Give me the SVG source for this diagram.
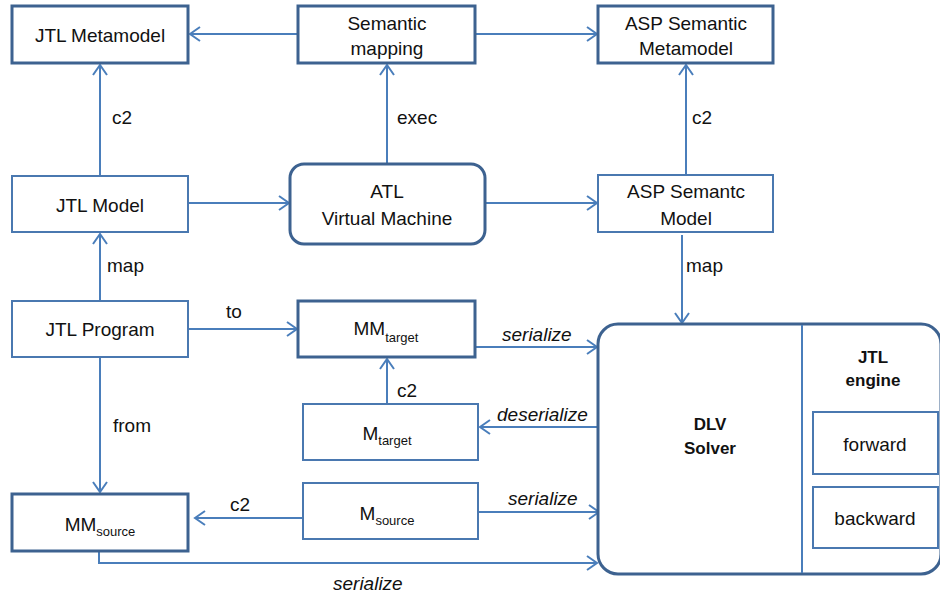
<svg xmlns="http://www.w3.org/2000/svg" width="940" height="597" viewBox="0 0 940 597">
<defs>
<style>
.thick{fill:#fff;stroke:#3d6290;stroke-width:3}
.thin{fill:#fff;stroke:#4a78b0;stroke-width:2}
.t{font-family:"Liberation Sans",Arial,sans-serif;font-size:19px;fill:#111;text-anchor:middle}
.l{font-family:"Liberation Sans",Arial,sans-serif;font-size:19px;fill:#111}
.i{font-style:italic}
.b{font-weight:bold;font-size:17px}
.sub{font-size:13px}
.c{fill:none;stroke:#4a7ebb;stroke-width:2}
</style>
<marker id="a" markerUnits="userSpaceOnUse" markerWidth="14" markerHeight="16" refX="11" refY="8" orient="auto">
<path d="M1,1 L11,8 L1,15" fill="none" stroke="#4a7ebb" stroke-width="2"/>
</marker>
</defs>
<g id="connectors">
<line class="c" x1="298" y1="34" x2="190" y2="34" marker-end="url(#a)"/>
<line class="c" x1="475" y1="34" x2="597" y2="34" marker-end="url(#a)"/>
<line class="c" x1="100" y1="176" x2="100" y2="65" marker-end="url(#a)"/>
<line class="c" x1="387" y1="164" x2="387" y2="65" marker-end="url(#a)"/>
<line class="c" x1="686" y1="175" x2="686" y2="65" marker-end="url(#a)"/>
<line class="c" x1="188" y1="203" x2="289" y2="203" marker-end="url(#a)"/>
<line class="c" x1="485" y1="203" x2="597" y2="203" marker-end="url(#a)"/>
<line class="c" x1="100" y1="301" x2="100" y2="234" marker-end="url(#a)"/>
<line class="c" x1="682" y1="235" x2="682" y2="323" marker-end="url(#a)"/>
<line class="c" x1="188" y1="329" x2="297" y2="329" marker-end="url(#a)"/>
<line class="c" x1="475" y1="347" x2="597" y2="347" marker-end="url(#a)"/>
<line class="c" x1="602" y1="427" x2="480" y2="427" marker-end="url(#a)"/>
<line class="c" x1="387" y1="404" x2="387" y2="359" marker-end="url(#a)"/>
<line class="c" x1="478" y1="512" x2="599" y2="512" marker-end="url(#a)"/>
<line class="c" x1="303" y1="518" x2="195" y2="518" marker-end="url(#a)"/>
<line class="c" x1="100" y1="357" x2="100" y2="492" marker-end="url(#a)"/>
<polyline class="c" points="99,551 99,563 597,563" marker-end="url(#a)"/>
<text class="l" x="112" y="124">c2</text>
<text class="l" x="397" y="124">exec</text>
<text class="l" x="692" y="124">c2</text>
<text class="l" x="107" y="272">map</text>
<text class="l" x="686" y="272">map</text>
<text class="l" x="226" y="318">to</text>
<text class="l i" x="502" y="341">serialize</text>
<text class="l i" x="497" y="421">deserialize</text>
<text class="l i" x="508" y="505">serialize</text>
<text class="l" x="397" y="397">c2</text>
<text class="l" x="113" y="432">from</text>
<text class="l" x="230" y="511">c2</text>
<text class="l i" x="333" y="590">serialize</text>
</g>
<g id="jtl-metamodel">
<rect class="thick" x="12" y="6" width="176" height="57"/>
<text class="t" x="100" y="42">JTL Metamodel</text>
</g>
<g id="semantic-mapping">
<rect class="thick" x="298" y="6" width="177" height="57"/>
<text class="t" x="387" y="30">Semantic</text>
<text class="t" x="387" y="55">mapping</text>
</g>
<g id="asp-semantic-metamodel">
<rect class="thick" x="598" y="6" width="175" height="57"/>
<text class="t" x="686" y="30">ASP Semantic</text>
<text class="t" x="686" y="55">Metamodel</text>
</g>
<g id="jtl-model">
<rect class="thin" x="12" y="176" width="176" height="56"/>
<text class="t" x="100" y="212">JTL Model</text>
</g>
<g id="atl-vm">
<rect class="thick" x="290" y="164" width="195" height="80" rx="14"/>
<text class="t" x="387" y="198">ATL</text>
<text class="t" x="387" y="225">Virtual Machine</text>
</g>
<g id="asp-semantic-model">
<rect class="thin" x="598" y="175" width="175" height="57"/>
<text class="t" x="686" y="198">ASP Semantc</text>
<text class="t" x="686" y="225">Model</text>
</g>
<g id="jtl-program">
<rect class="thin" x="12" y="301" width="176" height="56"/>
<text class="t" x="100" y="336">JTL Program</text>
</g>
<g id="mm-target">
<rect class="thick" x="298" y="301" width="177" height="56"/>
<text class="t" x="386" y="335">MM<tspan class="sub" dy="7">target</tspan></text>
</g>
<g id="m-target">
<rect class="thin" x="303" y="404" width="175" height="56"/>
<text class="t" x="387" y="440">M<tspan class="sub" dy="5">target</tspan></text>
</g>
<g id="m-source">
<rect class="thin" x="303" y="483" width="175" height="56"/>
<text class="t" x="387" y="520">M<tspan class="sub" dy="5">source</tspan></text>
</g>
<g id="mm-source">
<rect class="thick" x="12" y="494" width="176" height="57"/>
<text class="t" x="100" y="531">MM<tspan class="sub" dy="5">source</tspan></text>
</g>
<g id="dlv">
<rect class="thick" x="598" y="324" width="343" height="250" rx="20"/>
<line x1="802" y1="325" x2="802" y2="573" stroke="#4a7ebb" stroke-width="2"/>
<text class="t b" x="710" y="430">DLV</text>
<text class="t b" x="710" y="454">Solver</text>
<text class="t b" x="873" y="363">JTL</text>
<text class="t b" x="873" y="386">engine</text>
</g>
<g id="forward">
<rect class="thin" x="813" y="412" width="125" height="62"/>
<text class="t" x="875" y="451">forward</text>
</g>
<g id="backward">
<rect class="thin" x="813" y="487" width="125" height="61"/>
<text class="t" x="875" y="525">backward</text>
</g>
</svg>
